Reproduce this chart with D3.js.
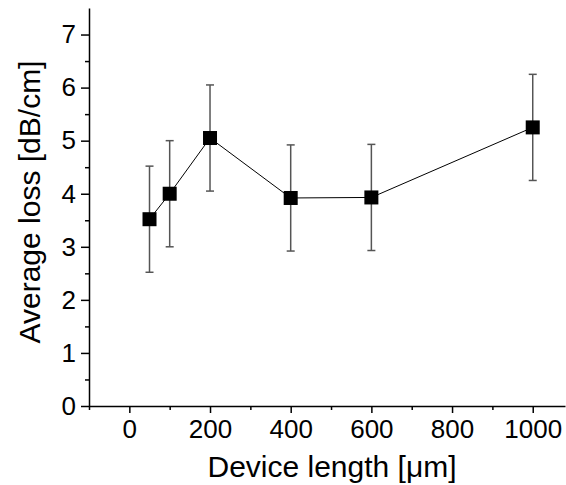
<!DOCTYPE html>
<html lang="en">
<head>
<meta charset="UTF-8">
<title>Average loss vs device length</title>
<style>
  body { margin: 0; background: #fff; }
  svg text { font-family: Arial, "Liberation Sans", sans-serif; fill: #000; }
  .axis path, .axis line { stroke: #000; stroke-width: 1.5; }
  .err { stroke: #555; stroke-width: 1.5; }
</style>
</head>
<body>
<div id="plot"></div>
<script src="https://cdnjs.cloudflare.com/ajax/libs/d3/7.8.5/d3.min.js"></script>
<script>
var lengths = [50, 100, 200, 400, 600, 1000];
var losses = [3.52, 4.0, 5.05, 3.92, 3.93, 5.25];
var errors = [1.0, 1.0, 1.0, 1.0, 1.0, 1.0];
var xTicks = [0, 200, 400, 600, 800, 1000];
var yTicks = [0, 1, 2, 3, 4, 5, 6, 7];

var W = 566, H = 485;
var svg = d3.select('#plot').append('svg')
  .attr('width', W).attr('height', H);

var x = d3.scaleLinear().domain([-100, 1080]).range([89, 565]);
var y = d3.scaleLinear().domain([0, 7.5]).range([406, 8]);

// minor ticks
var xMinor = d3.range(-100, 1080, 100).filter(function(v) { return xTicks.indexOf(v) < 0; });
var yMinor = d3.range(0.5, 7.5, 1);

svg.append('g').attr('class', 'axis')
  .attr('transform', 'translate(0,406)')
  .call(d3.axisBottom(x).tickValues(xMinor).tickSize(4).tickFormat(''))
  .call(function(g) { g.select('.domain').remove(); });
svg.append('g').attr('class', 'axis')
  .attr('transform', 'translate(89,0)')
  .call(d3.axisLeft(y).tickValues(yMinor).tickSize(4).tickFormat(''))
  .call(function(g) { g.select('.domain').remove(); });

var xAxis = svg.append('g').attr('class', 'axis')
  .attr('transform', 'translate(0,406)')
  .call(d3.axisBottom(x).tickValues(xTicks).tickFormat(d3.format('d'))
    .tickSizeInner(7).tickSizeOuter(0).tickPadding(7))
  .attr('font-size', 26)
  .attr('font-family', 'Arial, "Liberation Sans", sans-serif');

var yAxis = svg.append('g').attr('class', 'axis')
  .attr('transform', 'translate(89,0)')
  .call(d3.axisLeft(y).tickValues(yTicks).tickSizeInner(8).tickSizeOuter(0).tickPadding(5))
  .attr('font-size', 26)
  .attr('font-family', 'Arial, "Liberation Sans", sans-serif');

var pts = lengths.map(function(d, i) { return { x: d, y: losses[i], e: errors[i] }; });

svg.append('path')
  .datum(pts)
  .attr('fill', 'none')
  .attr('stroke', '#000')
  .attr('stroke-width', 1)
  .attr('d', d3.line().x(function(d) { return x(d.x); }).y(function(d) { return y(d.y); }));

var eb = svg.append('g');
pts.forEach(function(d) {
  var cx = x(d.x);
  eb.append('line').attr('class', 'err')
    .attr('x1', cx).attr('x2', cx)
    .attr('y1', y(d.y + d.e)).attr('y2', y(d.y - d.e));
  [d.y + d.e, d.y - d.e].forEach(function(v) {
    eb.append('line').attr('class', 'err')
      .attr('x1', cx - 4).attr('x2', cx + 4)
      .attr('y1', y(v)).attr('y2', y(v));
  });
});

svg.append('g').selectAll('rect')
  .data(pts).enter().append('rect')
  .attr('x', function(d) { return x(d.x) - 7; })
  .attr('y', function(d) { return y(d.y) - 7; })
  .attr('width', 14).attr('height', 14)
  .attr('fill', '#000');

svg.append('text')
  .attr('x', 332).attr('y', 477)
  .attr('text-anchor', 'middle')
  .style('font-size', '30px')
  .text('Device length [μm]');

svg.append('text')
  .attr('transform', 'translate(40,202) rotate(-90)')
  .attr('text-anchor', 'middle')
  .style('font-size', '30px')
  .text('Average loss [dB/cm]');
</script>
</body>
</html>
